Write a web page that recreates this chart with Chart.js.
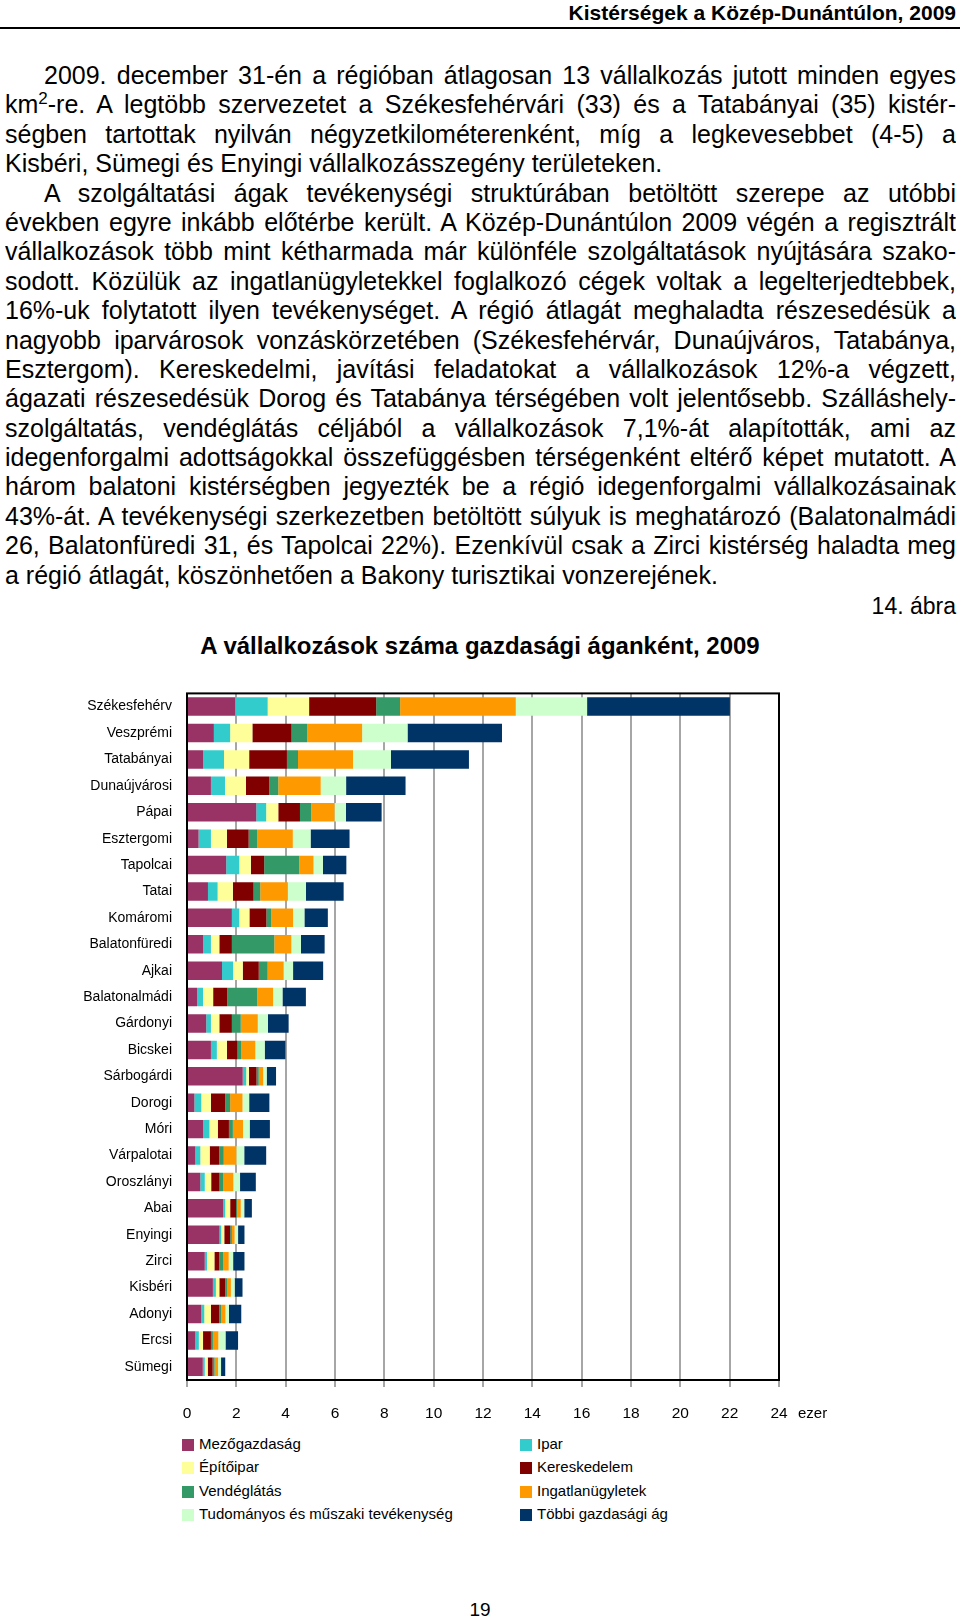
<!DOCTYPE html>
<html lang="hu">
<head>
<meta charset="utf-8">
<title>A vállalkozások száma gazdasági áganként, 2009</title>
<script src="https://cdn.jsdelivr.net/npm/chart.js@4.4.1/dist/chart.umd.min.js"></script>
<style>
  html, body { margin: 0; padding: 0; background: #fff; }
  body { width: 960px; height: 1622px; position: relative; overflow: hidden;
         font-family: "Liberation Sans", Arial, sans-serif; color: #000; }
  #header { position: absolute; right: 4px; top: 0; font-weight: bold; font-size: 21px; line-height: 25px; }
  #rule { position: absolute; left: 0; top: 27px; width: 960px; height: 2px; background: #000; }
  #text { position: absolute; left: 5px; top: 61px; width: 951px; font-size: 25px; }
  #text div { height: 29.4px; line-height: 29.4px; text-align: justify; text-align-last: justify; overflow: hidden; }
  #text div.last { text-align-last: left; }
  #text div.ind { padding-left: 39px; }
  #text sup { font-size: 17px; line-height: 0; vertical-align: 9px; }
  #fig { position: absolute; right: 4px; top: 592px; font-size: 23px; line-height: 28px; }
  #title { position: absolute; left: 0; width: 960px; top: 632px; text-align: center;
           font-weight: bold; font-size: 24px; line-height: 28px; }
  #chart { position: absolute; left: 0; top: 670px; }
  #unit { position: absolute; left: 798px; top: 1404px; font-size: 15px; line-height: 18px; }
  .leg { position: absolute; font-size: 15px; line-height: 18px; white-space: nowrap; }
  .leg i { position: absolute; left: -17px; top: 4px; width: 12px; height: 12px; }
  #page { position: absolute; left: 0; width: 960px; top: 1599px; text-align: center; font-size: 19px; line-height: 22px; }
</style>
</head>
<body>
<div id="header">Kistérségek a Közép-Dunántúlon, 2009</div>
<div id="rule"></div>

<div id="text">
  <div class="ind">2009. december 31-én a régióban átlagosan 13 vállalkozás jutott minden egyes</div>
  <div>km<sup>2</sup>-re. A legtöbb szervezetet a Székesfehérvári (33) és a Tatabányai (35) kistér-</div>
  <div>ségben tartottak nyilván négyzetkilométerenként, míg a legkevesebbet (4-5) a</div>
  <div class="last">Kisbéri, Sümegi és Enyingi vállalkozásszegény területeken.</div>
  <div class="ind">A szolgáltatási ágak tevékenységi struktúrában betöltött szerepe az utóbbi</div>
  <div>években egyre inkább előtérbe került. A Közép-Dunántúlon 2009 végén a regisztrált</div>
  <div>vállalkozások több mint kétharmada már különféle szolgáltatások nyújtására szako-</div>
  <div>sodott. Közülük az ingatlanügyletekkel foglalkozó cégek voltak a legelterjedtebbek,</div>
  <div>16%-uk folytatott ilyen tevékenységet. A régió átlagát meghaladta részesedésük a</div>
  <div>nagyobb iparvárosok vonzáskörzetében (Székesfehérvár, Dunaújváros, Tatabánya,</div>
  <div>Esztergom). Kereskedelmi, javítási feladatokat a vállalkozások 12%-a végzett,</div>
  <div>ágazati részesedésük Dorog és Tatabánya térségében volt jelentősebb. Szálláshely-</div>
  <div>szolgáltatás, vendéglátás céljából a vállalkozások 7,1%-át alapították, ami az</div>
  <div>idegenforgalmi adottságokkal összefüggésben térségenként eltérő képet mutatott. A</div>
  <div>három balatoni kistérségben jegyezték be a régió idegenforgalmi vállalkozásainak</div>
  <div>43%-át. A tevékenységi szerkezetben betöltött súlyuk is meghatározó (Balatonalmádi</div>
  <div>26, Balatonfüredi 31, és Tapolcai 22%). Ezenkívül csak a Zirci kistérség haladta meg</div>
  <div class="last">a régió átlagát, köszönhetően a Bakony turisztikai vonzerejének.</div>
</div>

<div id="fig">14. ábra</div>
<div id="title">A vállalkozások száma gazdasági áganként, 2009</div>
<canvas id="chart" width="960" height="760"></canvas>
<div id="unit">ezer</div>
<div id="legend"></div>
<div id="page">19</div>

<script>
// squeeze any justified line that would wrap
document.querySelectorAll('#text div').forEach(el => {
  let ls = 0;
  while (el.scrollHeight > 31 && ls > -2) {
    ls -= 0.1;
    el.style.letterSpacing = ls + 'px';
  }
});

const categories = ['Székesfehérv', 'Veszprémi', 'Tatabányai', 'Dunaújvárosi', 'Pápai', 'Esztergomi',
  'Tapolcai', 'Tatai', 'Komáromi', 'Balatonfüredi', 'Ajkai', 'Balatonalmádi', 'Gárdonyi', 'Bicskei',
  'Sárbogárdi', 'Dorogi', 'Móri', 'Várpalotai', 'Oroszlányi', 'Abai', 'Enyingi', 'Zirci', 'Kisbéri',
  'Adonyi', 'Ercsi', 'Sümegi'];

const seriesNames = ['Mezőgazdaság', 'Ipar', 'Építőipar', 'Kereskedelem', 'Vendéglátás',
  'Ingatlanügyletek', 'Tudományos és műszaki tevékenység', 'Többi gazdasági ág'];
const seriesColors = ['#993366', '#33CCCC', '#FFFF99', '#800000', '#339966', '#FF9900', '#CCFFCC', '#003366'];

// thousand enterprises
const mezogazdasag = [1.95, 1.09, 0.66, 0.97, 2.81, 0.47, 1.59, 0.85, 1.82, 0.65, 1.42, 0.41, 0.78,
  0.97, 2.26, 0.30, 0.65, 0.34, 0.54, 1.46, 1.32, 0.72, 1.05, 0.58, 0.34, 0.64];
const ipar = [1.32, 0.66, 0.84, 0.57, 0.40, 0.50, 0.53, 0.39, 0.30, 0.32, 0.45, 0.24, 0.19,
  0.24, 0.14, 0.28, 0.26, 0.20, 0.18, 0.09, 0.07, 0.09, 0.12, 0.12, 0.14, 0.08];
const epitoipar = [1.68, 0.90, 1.02, 0.85, 0.49, 0.65, 0.47, 0.62, 0.41, 0.34, 0.39, 0.41, 0.34,
  0.41, 0.11, 0.39, 0.34, 0.38, 0.26, 0.20, 0.12, 0.30, 0.14, 0.27, 0.17, 0.12];
const kereskedelem = [2.72, 1.59, 1.53, 0.94, 0.88, 0.88, 0.54, 0.84, 0.69, 0.51, 0.65, 0.57, 0.51,
  0.43, 0.31, 0.58, 0.45, 0.39, 0.34, 0.24, 0.24, 0.20, 0.24, 0.34, 0.32, 0.20];
const vendeglatas = [0.97, 0.63, 0.45, 0.37, 0.46, 0.34, 1.42, 0.27, 0.19, 1.72, 0.36, 1.22, 0.36,
  0.14, 0.09, 0.20, 0.16, 0.18, 0.14, 0.05, 0.07, 0.15, 0.07, 0.07, 0.08, 0.08];
const ingatlan = [4.69, 2.23, 2.23, 1.72, 0.94, 1.45, 0.58, 1.12, 0.89, 0.69, 0.65, 0.64, 0.69,
  0.58, 0.18, 0.50, 0.41, 0.51, 0.42, 0.14, 0.11, 0.23, 0.16, 0.18, 0.22, 0.14];
const tudomanyos = [2.89, 1.84, 1.54, 1.03, 0.46, 0.72, 0.38, 0.73, 0.46, 0.39, 0.38, 0.38, 0.41,
  0.38, 0.14, 0.27, 0.27, 0.32, 0.27, 0.14, 0.14, 0.18, 0.15, 0.14, 0.29, 0.12];
const tobbi = [5.79, 3.83, 3.16, 2.41, 1.45, 1.58, 0.95, 1.53, 0.95, 0.96, 1.22, 0.95, 0.84,
  0.84, 0.38, 0.82, 0.82, 0.89, 0.64, 0.31, 0.26, 0.46, 0.32, 0.50, 0.51, 0.17];

const seriesData = [mezogazdasag, ipar, epitoipar, kereskedelem, vendeglatas, ingatlan, tudomanyos, tobbi];

const xMin = 0, xMax = 24, xStep = 2;

// legend in two columns
const legend = document.getElementById('legend');
seriesNames.forEach((name, i) => {
  const d = document.createElement('div');
  d.className = 'leg';
  d.style.left = (i % 2 ? 537 : 199) + 'px';
  d.style.top = (1435 + Math.floor(i / 2) * 23.3) + 'px';
  d.innerHTML = '<i style="background:' + seriesColors[i] + '"></i>';
  d.appendChild(document.createTextNode(name));
  legend.appendChild(d);
});

const frame = {
  id: 'frame',
  afterDatasetsDraw(chart) {
    const { ctx, chartArea: a } = chart;
    ctx.save();
    ctx.strokeStyle = '#000';
    ctx.lineWidth = 2;
    ctx.strokeRect(a.left, a.top, a.right - a.left, a.bottom - a.top);
    ctx.restore();
  }
};

Chart.defaults.font.family = '"Liberation Sans", Arial, sans-serif';
Chart.defaults.color = '#000';

new Chart(document.getElementById('chart').getContext('2d'), {
  type: 'bar',
  data: {
    labels: categories,
    datasets: seriesNames.map((name, i) => ({
      label: name,
      data: seriesData[i],
      backgroundColor: seriesColors[i],
      borderWidth: 0,
      categoryPercentage: 1,
      barPercentage: 0.7
    }))
  },
  options: {
    responsive: false,
    animation: false,
    indexAxis: 'y',
    layout: { padding: { top: 21, right: 181, left: 0, bottom: 0 } },
    plugins: { legend: { display: false }, tooltip: { enabled: false } },
    scales: {
      x: {
        stacked: true, min: xMin, max: xMax,
        ticks: { stepSize: xStep, font: { size: 15.5 }, padding: 17, maxRotation: 0 },
        grid: { color: '#a6a6a6', lineWidth: 2, tickLength: 7 },
        border: { display: false },
        afterFit(s) { s.height = 50; }
      },
      y: {
        stacked: true,
        ticks: { font: { size: 14 }, padding: 15, autoSkip: false },
        grid: { display: false, drawTicks: false },
        border: { display: false },
        afterFit(s) { s.width = 187; }
      }
    }
  },
  plugins: [frame]
});
</script>
</body>
</html>
